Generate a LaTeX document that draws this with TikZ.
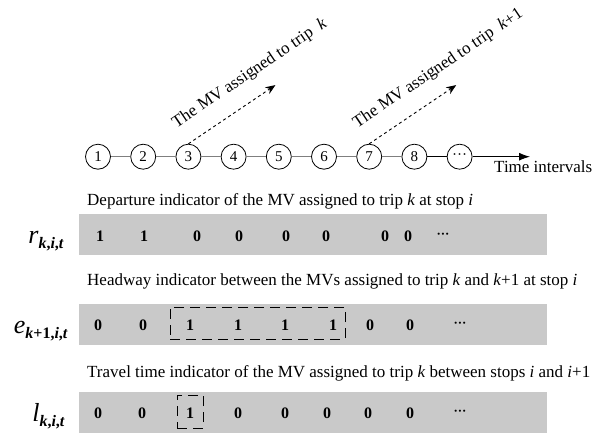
\documentclass[tikz,border=0pt]{standalone}
\usepackage{fontspec}
\setmainfont{Liberation Serif}
\usetikzlibrary{arrows.meta}
\definecolor{barfill}{HTML}{C9C9C9}
\definecolor{linkgray}{HTML}{7F7F7F}
\newcommand\rowlab[2]{{\fontsize{26}{26}\selectfont\itshape #1}\raisebox{-5pt}{\fontsize{16}{16}\selectfont\bfseries #2}}
\newcommand\smalldots{{\fontsize{13}{13}\selectfont\bfseries ···}}
\begin{document}
\begin{tikzpicture}[x=1pt,y=-1pt,
  stage/.style={circle,draw,line width=0.8pt,minimum size=25pt,inner sep=0pt,font=\fontsize{15}{15}\selectfont},
  bar/.style={fill=barfill,minimum width=468pt,minimum height=41pt,inner sep=0pt},
  bit/.style={font=\fontsize{16}{16}\selectfont\bfseries,inner sep=0pt},
  captext/.style={font=\fontsize{17}{17}\selectfont,inner sep=0pt,anchor=base west},
  lab/.style={inner sep=0pt,anchor=base east},
  hl/.style={draw,dash pattern=on 10pt off 6pt,line width=0.9pt,inner sep=0pt},
  trip/.style={dashed,line width=0.9pt,-{Stealth[length=10pt,width=8pt]}},
  link/.style={linkgray,line width=1.5pt}]
\useasboundingbox (0,0) rectangle (601,434);
% time line
\foreach \i in {1,...,8} \node[stage] (c\i) at ({98+45.2*(\i-1)},156.7) {\i};
\node[stage] (c9) at (459.6,156.7) {···};
\coordinate (tend) at (530,156.7);
\foreach \i [evaluate=\i as \j using int(\i+1)] in {1,...,7} \draw[link] (c\i) -- (c\j);
\draw[line width=1pt] (c8) -- (c9);
\draw[line width=1pt,-{Latex[length=11pt,width=8pt]}] (c9) -- (tend);
\node[captext] (tl) at (494,172) {Time intervals};
% trips
\coordinate (a1) at ([shift={(87,-58.7)}]c3.north);
\coordinate (a2) at ([shift={(87,-58.7)}]c7.north);
\draw[trip] (c3.north) -- (a1);
\draw[trip] (c7.north) -- (a2);
\node[captext,rotate=34] (t1) at ([shift={(-12,-28.5)}]c3.center) {The MV assigned to trip\ \ \textit{k}};
\node[captext,rotate=34] (t2) at ([shift={(-12,-28.5)}]c7.center) {The MV assigned to trip\ \ \textit{k}+1};
% bars
\node[bar] (b1) at (313,234.5) {};
\node[bar] (b2) at (313,324) {};
\node[bar] (b3) at (313,412.5) {};
% captions
\node[captext] (d1) at (87,205) {Departure indicator of the MV assigned to trip \textit{k} at stop \textit{i}};
\node[captext] (d2) at (87,285) {Headway indicator between the MVs assigned to trip \textit{k} and \textit{k}+1 at stop \textit{i}};
\node[captext] (d3) at (87,377) {Travel time indicator of the MV assigned to trip \textit{k} between stops \textit{i} and \textit{i}+1};
% labels
\node[lab] (lr) at (64,243) {\rowlab{r}{\textit{k},\textit{i},\textit{t}}};
\node[lab] (le) at (68,333) {\rowlab{e}{\textit{k}+1,\textit{i},\textit{t}}};
\node[lab] (ll) at (65,421) {\rowlab{l}{\textit{k},\textit{i},\textit{t}}};
% digits
\foreach \x/\v [count=\n] in {100/1,144/1,197/0,239/0,286/0,326/0,385/0,408/0,443/\smalldots}
  \node[bit] (r\n) at (\x,236) {\v};
\foreach \x/\v [count=\n] in {98/0,143/0,190/1,238/1,285/1,333/1,370/0,410/0,460/\smalldots}
  \node[bit] (e\n) at (\x,325) {\v};
\foreach \x/\v [count=\n] in {98/0,142/0,190/1,238/0,285/0,327/0,368/0,410/0,460/\smalldots}
  \node[bit] (l\n) at (\x,413) {\v};
% highlights
\node[hl,minimum width=175pt,minimum height=32pt] (hb) at (257.5,323) {};
\node[hl,minimum width=26pt,minimum height=33pt] (tb) at (190,411.5) {};
\end{tikzpicture}
\end{document}
